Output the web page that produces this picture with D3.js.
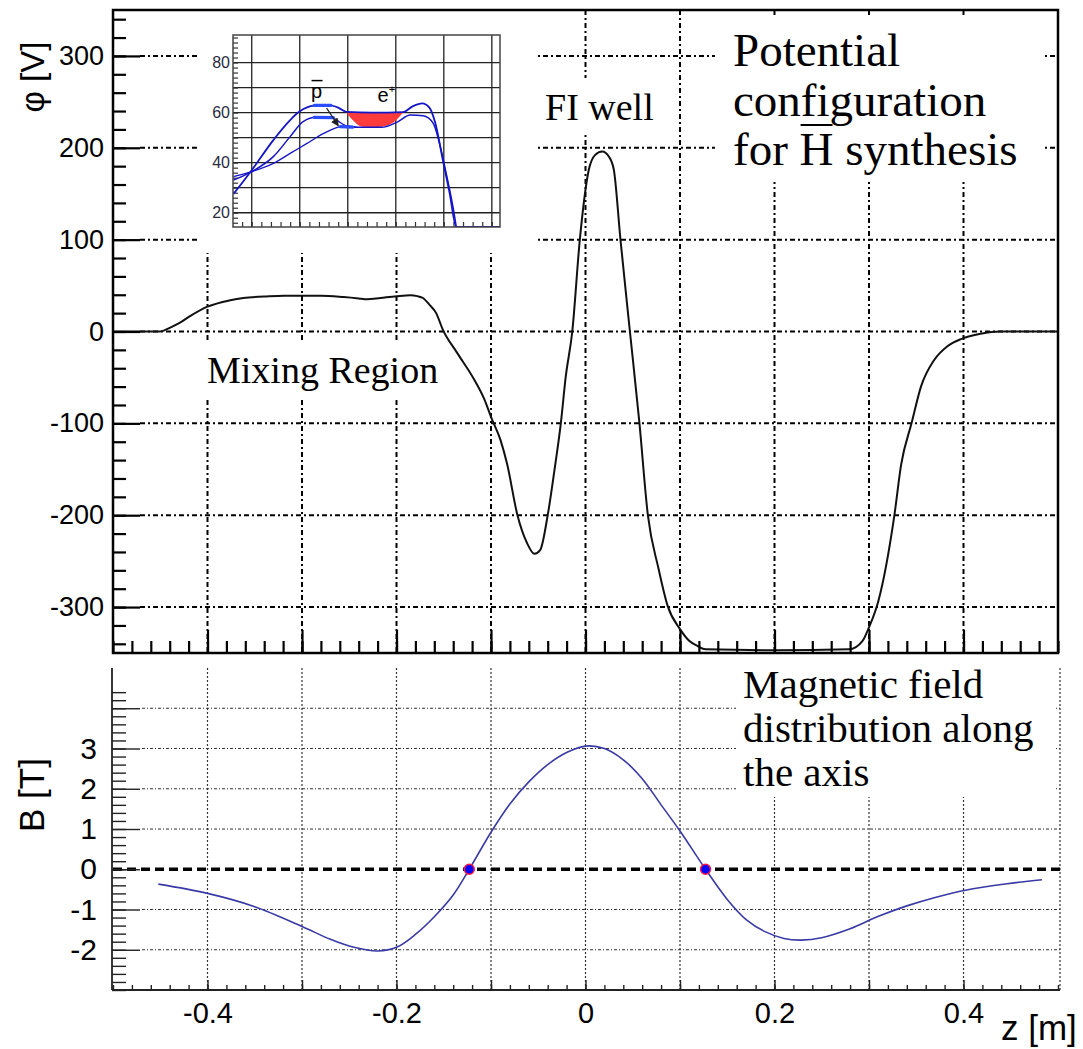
<!DOCTYPE html>
<html>
<head>
<meta charset="utf-8">
<script src="https://cdn.jsdelivr.net/npm/d3@7/dist/d3.min.js"></script>
<style>
  body { margin: 0; background: #fff; }
  text { font-family: 'Liberation Sans', Arial, sans-serif; fill: #000; }
  text.serif { font-family: 'Liberation Serif', 'Times New Roman', serif; }
</style>
</head>
<body>
<div id="chart"></div>
<script>
// ---- data ----
// electric potential along the trap axis (top panel)
var phiZ = [-0.50, -0.45, -0.44, -0.43, -0.418, -0.40, -0.376, -0.362, -0.34, -0.319, -0.28, -0.256, -0.24,
  -0.231, -0.217, -0.20, -0.185, -0.178, -0.172, -0.165, -0.158, -0.151, -0.136, -0.118, -0.107, -0.0996,
  -0.09, -0.083, -0.072, -0.062, -0.054, -0.048, -0.04, -0.033, -0.026, -0.021, -0.014, -0.006, 0.0035,
  0.01, 0.0176, 0.025, 0.030, 0.037, 0.047, 0.057, 0.066, 0.077, 0.087, 0.10, 0.11, 0.118, 0.127, 0.20,
  0.279, 0.293, 0.30, 0.31, 0.327, 0.334, 0.345, 0.355, 0.369, 0.383, 0.398, 0.418, 0.439, 0.50];
var phiV = [0, 0, 4, 9, 17, 27, 34, 36.5, 38, 39, 39, 37.5, 36,
  35, 36.5, 38.4, 39.5, 38.5, 36.5, 29, 20, 2, -23, -52, -74, -94,
  -118, -144, -200, -230, -242, -238, -200, -152, -99, -50, 0, 100, 176,
  192, 196, 190, 176, 100, 0, -99, -200, -257, -299, -324, -337, -342, -346, -347,
  -346, -337, -322, -293, -199, -145, -100, -60, -31, -16, -8, -2.5, 0, 0];

// magnetic field along the axis (bottom panel)
var bZ = [-0.452, -0.4, -0.35, -0.3, -0.27, -0.245, -0.22, -0.2, -0.18, -0.16, -0.14, -0.123,
  -0.1, -0.08, -0.06, -0.04, -0.02, 0, 0.02, 0.04, 0.06, 0.08, 0.1, 0.127, 0.15, 0.17, 0.19,
  0.21, 0.228, 0.25, 0.28, 0.31, 0.34, 0.37, 0.402, 0.446, 0.483];
var bV = [-0.37, -0.6, -0.93, -1.42, -1.74, -1.94, -2.03, -1.94, -1.62, -1.18, -0.64, 0,
  0.92, 1.62, 2.17, 2.6, 2.9, 3.06, 3.0, 2.72, 2.25, 1.6, 0.95, 0, -0.75, -1.25, -1.55,
  -1.72, -1.76, -1.7, -1.48, -1.17, -0.91, -0.7, -0.52, -0.36, -0.26];
var zeroCrossZ = [-0.123, 0.127];

// tick labels
var zLabels = [-0.4, -0.2, 0, 0.2, 0.4];
var phiLabels = [-300, -200, -100, 0, 100, 200, 300];
var bLabels = [-2, -1, 0, 1, 2, 3];

// inset: three potential curves in the mixing region
var in1U = [0.62, 1.0, 1.45, 1.8, 2.0, 2.3, 2.6, 2.8, 2.97, 3.5, 4.15, 4.35, 4.55, 4.7, 4.82, 4.98, 5.12, 5.26, 6.17];
var in1V = [27.5, 37, 49, 57, 60.5, 62.8, 63, 62, 60.3, 60, 60.2, 62.5, 63.7, 62, 56, 41, 28, 14.3, 14.3];
var in2U = [0.62, 1.0, 1.45, 1.8, 2.07, 2.35, 2.63, 2.97, 3.2, 3.7, 4.05, 4.3, 4.57, 4.78, 4.91, 5.05, 5.19, 5.26];
var in2V = [33, 36.4, 42.4, 50.4, 56.4, 58.1, 58.1, 54.7, 54.1, 54.1, 56.4, 59, 58.7, 55.7, 47.7, 35.7, 22.4, 14.3];
var in3U = [0.62, 1.0, 1.45, 1.8, 2.15, 2.5, 2.84, 2.97, 3.2];
var in3V = [34.4, 36.4, 39.7, 43.7, 47.7, 51.7, 54.4, 54.7, 54.1];
// positron plasma (red)
var ePlasmaU = [2.97, 3.1, 3.3, 3.5, 3.7, 3.95, 4.15];
var ePlasmaLow = [60, 57, 54.3, 54.1, 54.3, 56, 60];
var ePlasmaTop = [60, 60, 60, 60, 60, 60, 60];
// antiproton bunches (thick blue)
var pbarU = [[2.3, 2.65], [2.3, 2.7], [2.84, 3.1]];
var pbarV = [[62.9, 62.9], [58.1, 58.0], [54.4, 54.2]];
var arrowU = [2.56, 2.8];
var arrowV = [61.8, 54.8];
var insetYLabels = [20, 40, 60, 80];

// ---- layout ----
var width = 1083;
var height = 1049;

var svg = d3.select('#chart').append('svg')
  .attr('width', width)
  .attr('height', height)
  .style('background-color', '#fff');

var x = d3.scaleLinear().domain([-0.5, 0.5]).range([113, 1058]);
var yPhi = d3.scaleLinear().domain([-350, 350]).range([653, 10]);
var yB = d3.scaleLinear().domain([-3, 5]).range([990, 668]);

var zGrid = d3.range(-4, 5).map(function (i) { return i / 10; });
var zMinor = d3.range(-25, 26).map(function (i) { return i / 50; });

drawTopPanel();
drawInset();
drawBottomPanel();

// ---------------- top panel: potential ----------------
function drawTopPanel() {
  var g = svg.append('g');
  var dashDot = '5,3,2,3';

  g.selectAll('line.hgrid')
    .data(phiLabels)
    .enter().append('line')
    .attr('x1', 140).attr('x2', x(0.5))
    .attr('y1', function (d) { return yPhi(d); })
    .attr('y2', function (d) { return yPhi(d); })
    .attr('stroke', '#000').attr('stroke-width', 2)
    .attr('stroke-dasharray', dashDot);

  g.selectAll('line.vgrid')
    .data(zGrid)
    .enter().append('line')
    .attr('x1', function (d) { return x(d); })
    .attr('x2', function (d) { return x(d); })
    .attr('y1', yPhi(350)).attr('y2', yPhi(-350))
    .attr('stroke', '#000').attr('stroke-width', 2)
    .attr('stroke-dasharray', dashDot);

  // white pads under the inset and the text boxes
  var pads = [
    [200, 10, 337, 243],
    [537, 78, 125, 57],
    [715, 15, 330, 167],
    [200, 343, 245, 55]
  ];
  g.selectAll('rect.pad')
    .data(pads)
    .enter().append('rect')
    .attr('x', function (d) { return d[0]; })
    .attr('y', function (d) { return d[1]; })
    .attr('width', function (d) { return d[2]; })
    .attr('height', function (d) { return d[3]; })
    .attr('fill', '#fff');

  var line = d3.line()
    .x(function (d, i) { return x(phiZ[i]); })
    .y(function (d) { return yPhi(d); })
    .curve(d3.curveMonotoneX);

  g.append('path')
    .attr('d', line(phiV))
    .attr('fill', 'none')
    .attr('stroke', '#111')
    .attr('stroke-width', 2);

  // axes: ticks point inside the frame
  var ax = g.append('g').attr('transform', 'translate(0,' + yPhi(-350) + ')');
  ax.append('g').call(d3.axisBottom(x).tickValues(zMinor).tickSize(-12).tickFormat(''));
  ax.append('g').call(d3.axisBottom(x).tickValues(zGrid).tickSize(-23).tickFormat(''));

  var ay = g.append('g').attr('transform', 'translate(' + x(-0.5) + ',0)');
  ay.append('g').call(d3.axisLeft(yPhi).tickValues(d3.range(-340, 341, 20)).tickSize(-13).tickFormat(''));
  ay.append('g').call(d3.axisLeft(yPhi).tickValues(phiLabels).tickSize(-27).tickPadding(9).tickFormat(String));

  g.selectAll('.domain').remove();
  g.selectAll('.tick line').attr('stroke', '#000').attr('stroke-width', 2.2);
  ay.selectAll('.tick text').style('font-size', '27px');

  g.append('rect')
    .attr('x', x(-0.5)).attr('y', yPhi(350))
    .attr('width', x(0.5) - x(-0.5)).attr('height', yPhi(-350) - yPhi(350))
    .attr('fill', 'none').attr('stroke', '#000').attr('stroke-width', 2.5);

  g.append('text')
    .attr('transform', 'translate(44,77) rotate(-90)')
    .attr('text-anchor', 'middle')
    .style('font-size', '33px')
    .text('φ [V]');

  // annotations
  var title = g.append('g');
  ['Potential', 'configuration', 'for H synthesis'].forEach(function (s, i) {
    title.append('text')
      .attr('class', 'serif')
      .attr('x', 733).attr('y', 66 + i * 49.5)
      .style('font-size', '47px')
      .text(s);
  });
  // bar over the H
  var last = title.selectAll('text').nodes()[2];
  var hx = 733 + last.getSubStringLength(0, 4);
  var hw = last.getSubStringLength(4, 1);
  title.append('line')
    .attr('x1', hx + 1).attr('x2', hx + hw - 1)
    .attr('y1', 125).attr('y2', 125)
    .attr('stroke', '#000').attr('stroke-width', 2);

  g.append('text').attr('class', 'serif')
    .attr('x', 545).attr('y', 120)
    .style('font-size', '38px')
    .text('FI well');

  g.append('text').attr('class', 'serif')
    .attr('x', 207).attr('y', 383)
    .style('font-size', '38px')
    .text('Mixing Region');
}

// ---------------- inset ----------------
function drawInset() {
  var ix = d3.scaleLinear().domain([0.61, 6.17]).range([233, 500]);
  var iy = d3.scaleLinear().domain([14.3, 91]).range([227, 35]);
  var g = svg.append('g');

  g.append('clipPath').attr('id', 'insetClip')
    .append('rect')
    .attr('x', ix(0.61)).attr('y', iy(91))
    .attr('width', ix(6.17) - ix(0.61)).attr('height', iy(14.3) - iy(91));

  // grid
  g.selectAll('line.ivg')
    .data(d3.range(1, 7))
    .enter().append('line')
    .attr('x1', function (d) { return ix(d); })
    .attr('x2', function (d) { return ix(d); })
    .attr('y1', iy(91)).attr('y2', iy(14.3))
    .attr('stroke', '#222').attr('stroke-width', 1.3);
  g.selectAll('line.ihg')
    .data(d3.range(20, 81, 10))
    .enter().append('line')
    .attr('x1', ix(0.61)).attr('x2', ix(6.17))
    .attr('y1', function (d) { return iy(d); })
    .attr('y2', function (d) { return iy(d); })
    .attr('stroke', '#222').attr('stroke-width', 1.3);

  // ticks
  g.append('g').attr('transform', 'translate(0,' + iy(14.3) + ')')
    .call(d3.axisBottom(ix).tickValues(d3.range(4, 31).map(function (i) { return i / 5; })).tickSize(-5).tickFormat(''));
  g.append('g').attr('transform', 'translate(' + ix(0.61) + ',0)')
    .call(d3.axisLeft(iy).tickValues(d3.range(16, 91, 2)).tickSize(-5).tickFormat(''));
  g.append('g').attr('transform', 'translate(' + ix(0.61) + ',0)')
    .call(d3.axisLeft(iy).tickValues(insetYLabels).tickSize(0).tickPadding(3))
    .selectAll('text').style('font-size', '16px').style('fill', '#2a2a40');
  g.selectAll('.domain').remove();
  g.selectAll('.tick line').attr('stroke', '#333').attr('stroke-width', 1.2);

  var c = g.append('g').attr('clip-path', 'url(#insetClip)');

  var area = d3.area()
    .x(function (d, i) { return ix(ePlasmaU[i]); })
    .y0(function (d) { return iy(d); })
    .y1(function (d, i) { return iy(ePlasmaTop[i]); })
    .curve(d3.curveMonotoneX);
  c.append('path')
    .attr('d', area(ePlasmaLow))
    .attr('fill', '#ff3b3b');

  var curves = [[in1U, in1V, 1.8], [in2U, in2V, 1.5], [in3U, in3V, 1.3]];
  curves.forEach(function (cv) {
    var l = d3.line()
      .x(function (d, i) { return ix(cv[0][i]); })
      .y(function (d) { return iy(d); })
      .curve(d3.curveMonotoneX);
    c.append('path')
      .attr('d', l(cv[1]))
      .attr('fill', 'none')
      .attr('stroke', '#1515c8')
      .attr('stroke-width', cv[2]);
  });

  pbarU.forEach(function (u, k) {
    c.append('line')
      .attr('x1', ix(u[0])).attr('x2', ix(u[1]))
      .attr('y1', iy(pbarV[k][0])).attr('y2', iy(pbarV[k][1]))
      .attr('stroke', '#2a4dff').attr('stroke-width', 3.2)
      .attr('stroke-linecap', 'round');
  });

  var defs = svg.append('defs');
  defs.append('marker')
    .attr('id', 'arrow')
    .attr('markerUnits', 'userSpaceOnUse')
    .attr('markerWidth', 8).attr('markerHeight', 8)
    .attr('refX', 7).attr('refY', 4)
    .attr('orient', 'auto')
    .append('path').attr('d', 'M0,0 L8,4 L0,8 z').attr('fill', '#222');
  c.append('line')
    .attr('x1', ix(arrowU[0])).attr('y1', iy(arrowV[0]))
    .attr('x2', ix(arrowU[1])).attr('y2', iy(arrowV[1]))
    .attr('stroke', '#222').attr('stroke-width', 1.2)
    .attr('marker-end', 'url(#arrow)');

  // labels p-bar and e+
  var px = ix(2.35), py = iy(66);
  g.append('text').attr('x', px).attr('y', py)
    .attr('text-anchor', 'middle').style('font-size', '20px').text('p');
  g.append('line')
    .attr('x1', px - 5).attr('x2', px + 6)
    .attr('y1', py - 17).attr('y2', py - 17)
    .attr('stroke', '#000').attr('stroke-width', 1.5);
  var e = g.append('text').attr('x', ix(3.62)).attr('y', iy(64.4))
    .style('font-size', '20px');
  e.append('tspan').text('e');
  e.append('tspan').attr('dy', -9).style('font-size', '11px').text('+');

  g.append('rect')
    .attr('x', ix(0.61)).attr('y', iy(91))
    .attr('width', ix(6.17) - ix(0.61)).attr('height', iy(14.3) - iy(91))
    .attr('fill', 'none').attr('stroke', '#444').attr('stroke-width', 1.5);
}

// ---------------- bottom panel: magnetic field ----------------
function drawBottomPanel() {
  var g = svg.append('g');

  g.selectAll('line.bh')
    .data([-2, -1, 1, 2, 3, 4])
    .enter().append('line')
    .attr('x1', 142).attr('x2', x(0.5) + 2)
    .attr('y1', function (d) { return yB(d); })
    .attr('y2', function (d) { return yB(d); })
    .attr('stroke', '#333').attr('stroke-width', 1.2)
    .attr('stroke-dasharray', '3,2,1,2');
  g.selectAll('line.bv')
    .data(zGrid.concat([0.5]))
    .enter().append('line')
    .attr('x1', function (d) { return x(d) + (d === 0.5 ? 2 : 0); })
    .attr('x2', function (d) { return x(d) + (d === 0.5 ? 2 : 0); })
    .attr('y1', yB(5)).attr('y2', yB(-3))
    .attr('stroke', '#333').attr('stroke-width', 1.2)
    .attr('stroke-dasharray', '2,2');

  // white pad under the text
  g.append('rect')
    .attr('x', 736).attr('y', 668)
    .attr('width', 320).attr('height', 129)
    .attr('fill', '#fff');

  g.append('line')
    .attr('x1', x(-0.5)).attr('x2', x(0.5) + 2)
    .attr('y1', yB(0)).attr('y2', yB(0))
    .attr('stroke', '#000').attr('stroke-width', 3.5)
    .attr('stroke-dasharray', '9,5');

  var line = d3.line()
    .x(function (d, i) { return x(bZ[i]); })
    .y(function (d) { return yB(d); })
    .curve(d3.curveCatmullRom.alpha(0.5));
  g.append('path')
    .attr('d', line(bV))
    .attr('fill', 'none')
    .attr('stroke', '#3a3aa6')
    .attr('stroke-width', 1.6);

  g.selectAll('circle.zero')
    .data(zeroCrossZ)
    .enter().append('circle')
    .attr('cx', function (d) { return x(d); })
    .attr('cy', yB(0))
    .attr('r', 5)
    .attr('fill', '#0000ff')
    .attr('stroke', '#ff1744')
    .attr('stroke-width', 1.5);

  // axes
  var ax = g.append('g').attr('transform', 'translate(0,' + yB(-3) + ')');
  ax.append('g').call(d3.axisBottom(x).tickValues(zMinor).tickSize(-5).tickFormat(''));
  ax.append('g').call(d3.axisBottom(x).tickValues(zGrid).tickSize(-10).tickFormat(''));
  ax.append('g').call(d3.axisBottom(x).tickValues(zLabels).tickSize(0).tickPadding(12).tickFormat(String))
    .selectAll('text').style('font-size', '29px');

  var ay = g.append('g').attr('transform', 'translate(112,0)');
  ay.append('g').call(d3.axisLeft(yB).tickValues(d3.range(-15, 23).map(function (i) { return i / 5; })).tickSize(-14).tickFormat(''));
  ay.append('g').call(d3.axisLeft(yB).tickValues([-2, -1, 0, 1, 2, 3, 4]).tickSize(-28).tickFormat(''));
  ay.append('g').call(d3.axisLeft(yB).tickValues(bLabels).tickSize(0).tickPadding(15).tickFormat(String))
    .selectAll('text').style('font-size', '30px');

  g.selectAll('.domain').remove();
  g.selectAll('.tick line').attr('stroke', '#222').attr('stroke-width', 1.4);

  g.append('line')
    .attr('x1', 112).attr('x2', 112).attr('y1', yB(5)).attr('y2', yB(-3))
    .attr('stroke', '#222').attr('stroke-width', 1.8);
  g.append('line')
    .attr('x1', 112).attr('x2', x(0.5) + 2).attr('y1', yB(-3)).attr('y2', yB(-3))
    .attr('stroke', '#222').attr('stroke-width', 1.8);

  g.append('text')
    .attr('transform', 'translate(44,795) rotate(-90)')
    .attr('text-anchor', 'middle')
    .style('font-size', '35px')
    .text('B [T]');

  g.append('text')
    .attr('x', 1001).attr('y', 1040)
    .style('font-size', '35px')
    .text('z [m]');

  ['Magnetic field', 'distribution along', 'the axis'].forEach(function (s, i) {
    g.append('text')
      .attr('class', 'serif')
      .attr('x', 743).attr('y', 698 + i * 43.8)
      .style('font-size', '41px')
      .text(s);
  });
}
</script>
</body>
</html>
